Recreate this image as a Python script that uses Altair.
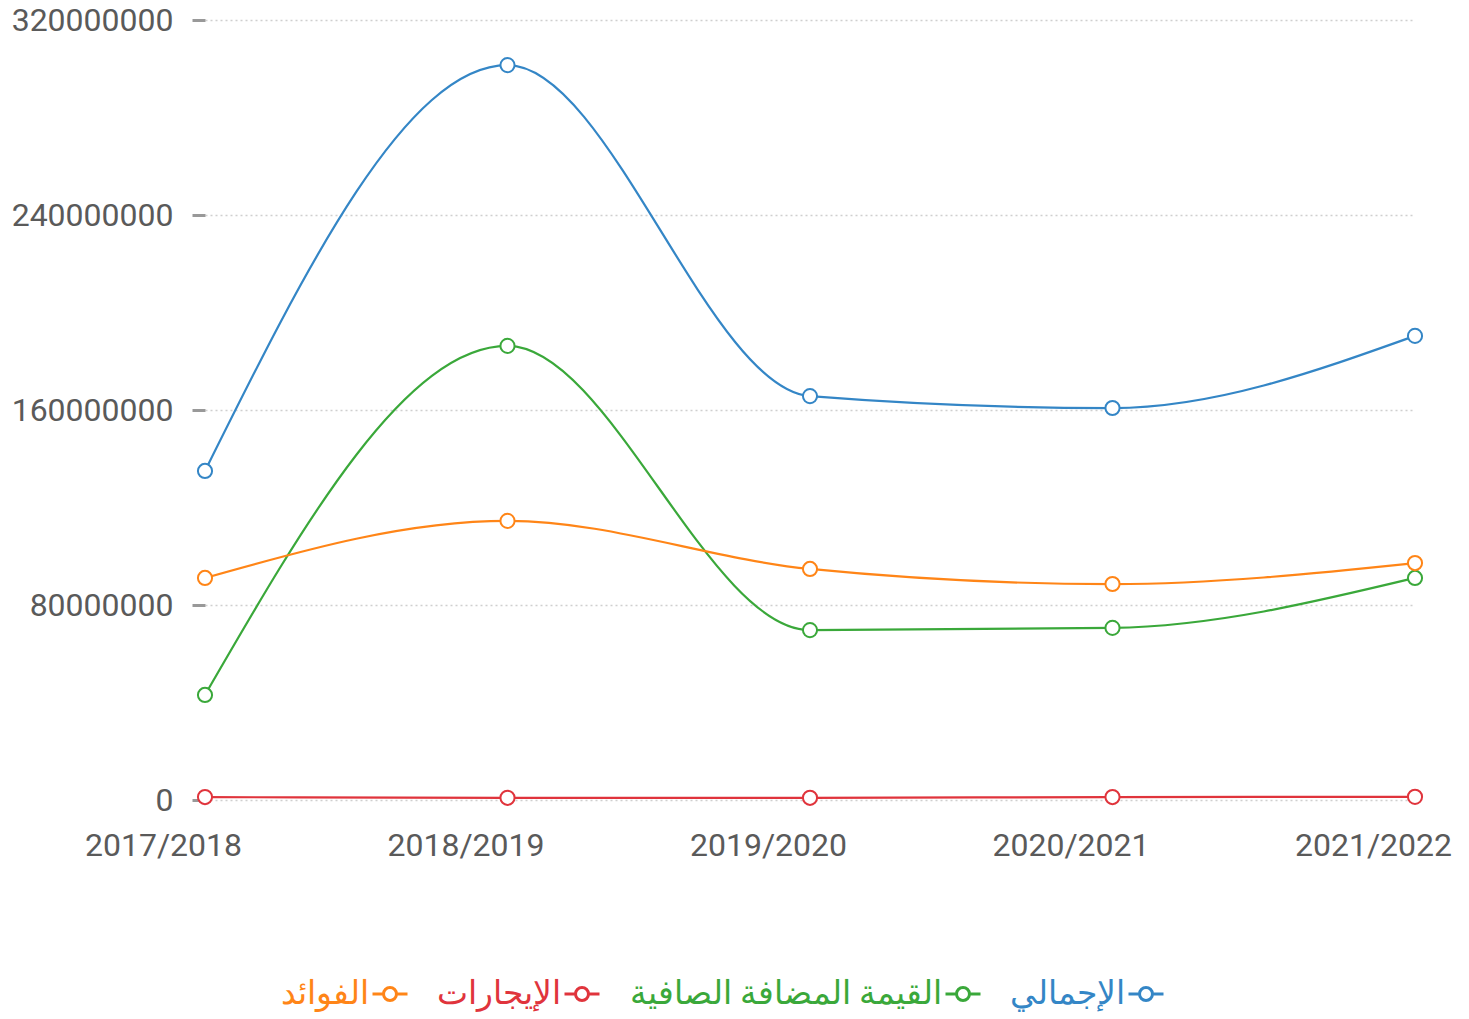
import altair as alt
import pandas as pd

years = ["2017/2018", "2018/2019", "2019/2020", "2020/2021", "2021/2022"]
total = [135.0e6, 301.5e6, 165.7e6, 160.8e6, 190.4e6]
value_added = [43.1e6, 186.3e6, 69.7e6, 70.6e6, 91.1e6]
rents = [1.2e6, 0.9e6, 0.9e6, 1.2e6, 1.3e6]
interests = [91.1e6, 114.5e6, 94.8e6, 88.6e6, 97.2e6]

series_names = ["الإجمالي", "القيمة المضافة الصافية", "الإيجارات", "الفوائد"]
series_values = [total, value_added, rents, interests]
legend_order = ["الفوائد", "الإيجارات", "القيمة المضافة الصافية", "الإجمالي"]
colors = {"الإجمالي": "#3486c6", "القيمة المضافة الصافية": "#3aa83a",
          "الإيجارات": "#e0343c", "الفوائد": "#ff8517"}

rows = []
for name, vals in zip(series_names, series_values):
    for y, v in zip(years, vals):
        rows.append({"year": y, "value": v, "series": name})
df = pd.DataFrame(rows)

FONT = "Roboto"
sym_path = "M-1,0L-0.37,0M0.37,0L1,0M0.37,0A0.37,0.37,0,1,1,-0.37,0A0.37,0.37,0,1,1,0.37,0Z"

color_scale = alt.Scale(domain=legend_order, range=[colors[n] for n in legend_order])

x = alt.X("year:N", sort=years, scale=alt.Scale(type="point", padding=0),
          axis=alt.Axis(title=None, labelAngle=0, labelFontSize=32, labelColor="#5a5a5a",
                        labelFont=FONT, ticks=False, domain=False, grid=False,
                        labelPadding=30, labelOffset=-42))
y = alt.Y("value:Q", scale=alt.Scale(domain=[0, 320e6], nice=False, zero=True),
          axis=alt.Axis(title=None, values=[0, 80e6, 160e6, 240e6, 320e6], format="d",
                        labelFontSize=32, labelColor="#5a5a5a", labelFont=FONT,
                        tickSize=13, tickWidth=3, tickColor="#999", labelPadding=19,
                        domain=False, grid=True, gridColor="#cfcfcf", gridDash=[2, 3],
                        gridWidth=1.5))

lines = alt.Chart(df).mark_line(interpolate="monotone", strokeWidth=2.2).encode(
    x=x, y=y,
    color=alt.Color("series:N", scale=color_scale, sort=legend_order,
                    legend=alt.Legend(
                        title=None, orient="none", direction="horizontal",
                        legendX=166, legendY=955,
                        symbolType=sym_path, symbolSize=1225, symbolStrokeWidth=3,
                        symbolFillColor="white",
                        labelFontSize=33, labelFont=FONT, labelAlign="right",
                        labelOffset={"expr": "-40"}, columnPadding=23, labelLimit=0,
                        labelColor={"expr": "scale('color', datum.value)"})),
)

points = alt.Chart(df).mark_point(shape="circle", filled=True, fill="white", size=200,
                                  strokeWidth=2, opacity=1).encode(
    x=x, y=y,
    stroke=alt.Stroke("series:N", scale=color_scale, legend=None),
)

chart = alt.layer(lines, points).properties(
    width=1210, height=780,
    padding={"left": 197, "top": 12, "right": 40, "bottom": 215},
    autosize=alt.AutoSizeParams(type="none"),
).configure_view(stroke=None)

chart.save("out.html", embed_options={"renderer": "svg", "actions": False})
